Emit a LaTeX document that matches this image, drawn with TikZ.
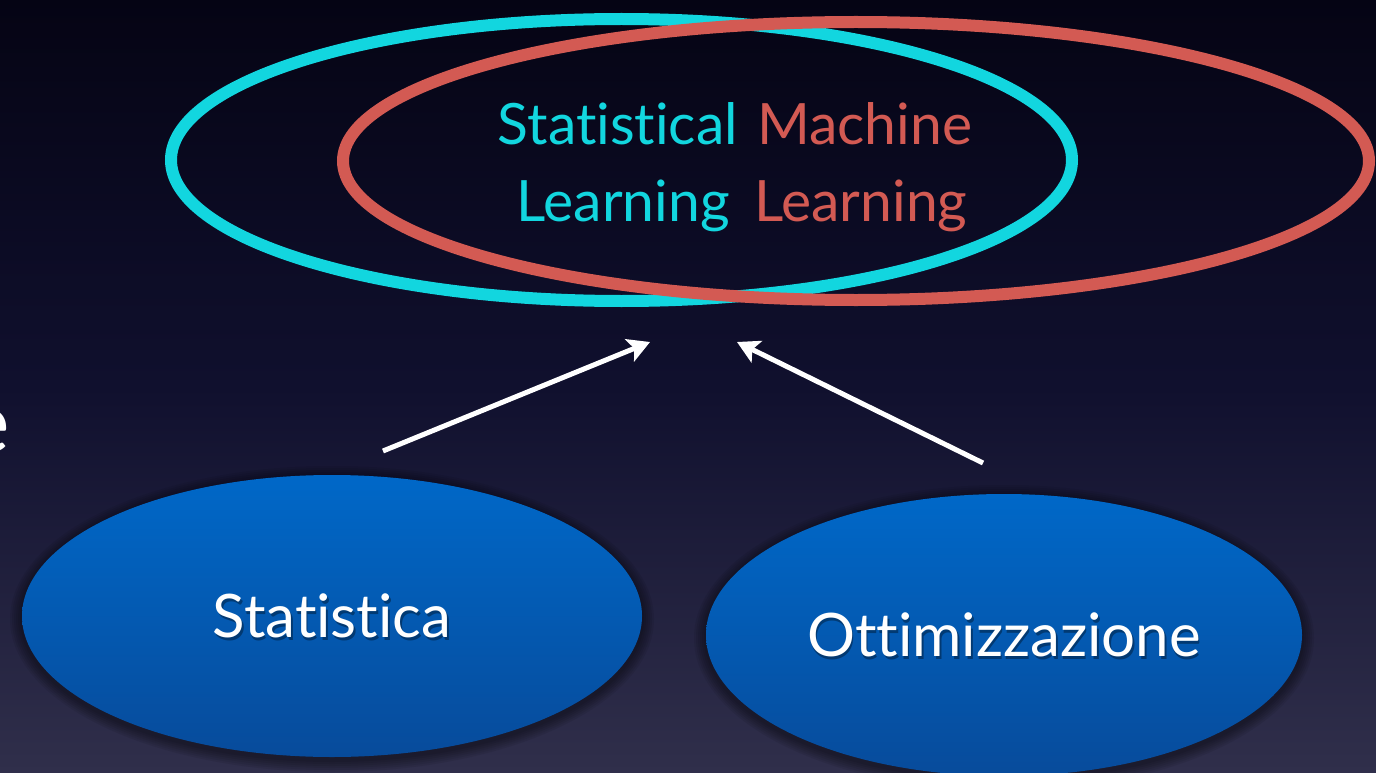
\documentclass[tikz,border=0pt]{standalone}
\usepackage{fontspec}
\setmainfont{Lato}[Ligatures={NoCommon,NoDiscretionary,NoContextual}]
\usetikzlibrary{shapes.geometric,arrows.meta}
\definecolor{bgtop}{HTML}{050414}
\definecolor{bgmid}{HTML}{10102E}
\definecolor{bgbot}{HTML}{302F4B}
\definecolor{smlcyan}{HTML}{12D6DF}
\definecolor{mlred}{HTML}{D35A53}
\definecolor{bluetop}{HTML}{0068C8}
\definecolor{bluebot}{HTML}{074B9B}
\begin{document}
\begin{tikzpicture}[x=1pt,y=-1pt,
  ring/.style={ellipse, line width=12pt, inner sep=0pt},
  wordtxt/.style={font=\fontsize{57}{68}\selectfont, inner sep=0pt},
  lbltxt/.style={font=\fontsize{60}{70}\selectfont, inner sep=0pt},
  bluebox/.style={ellipse, inner sep=0pt, top color=bluetop, bottom color=bluebot},
  arrowline/.style={draw=white, line width=5pt,
    -{Stealth[length=22pt,width=24pt,inset=5pt]}}]
\useasboundingbox (0,0) rectangle (1376,773);
% slide background
\shade[top color=bgtop, bottom color=bgbot, middle color=bgmid] (0,0) rectangle (1376,773);

% tail of a word cut by the left edge
\node[font=\fontsize{84}{90}\selectfont, text=white, anchor=base east, inner sep=0pt] (cut) at (10,452) {e};

% the two overlapping rings
\node[ring, draw=smlcyan, minimum width=901pt, minimum height=282pt] (slring) at (621.5,160) {};
\node[ring, draw=mlred, minimum width=1026pt, minimum height=278pt] (mlring) at (856,161) {};

\node[wordtxt, text=smlcyan, anchor=base east] (w1) at (738,145) {Statistical};
\node[wordtxt, text=mlred, anchor=base west] (w2) at (757,145) {Machine};
\node[wordtxt, text=smlcyan, anchor=base east] (w3) at (730,221) {Learning};
\node[wordtxt, text=mlred, anchor=base west] (w4) at (754,221) {Learning};

% soft shadows under the blue ellipses
\foreach \k in {1,...,6}{
  \fill[black, opacity=0.07] (332,619) ellipse ({310+2*\k} and {141+2*\k});
  \fill[black, opacity=0.07] (1004,638) ellipse ({298+2*\k} and {141+2*\k});
}
\node[bluebox, minimum width=620pt, minimum height=282pt] (stat) at (332,616) {};
\node[bluebox, minimum width=596pt, minimum height=282pt] (opt) at (1004,635) {};
\node[lbltxt, text=black, opacity=0.35] at (333.5,618.5) {Statistica};
\node[lbltxt, text=black, opacity=0.35] at (1005.5,637.5) {Ottimizzazione};
\node[lbltxt, text=white] (statlbl) at (stat.center) {Statistica};
\node[lbltxt, text=white] (optlbl) at (opt.center) {Ottimizzazione};

% arrows towards the rings
\coordinate (a1s) at (383,451);
\coordinate (a1e) at (650,342);
\coordinate (a2s) at (983,463);
\coordinate (a2e) at (737,342);
\draw[arrowline] (a1s) -- (a1e);
\draw[arrowline] (a2s) -- (a2e);
\end{tikzpicture}
\end{document}
